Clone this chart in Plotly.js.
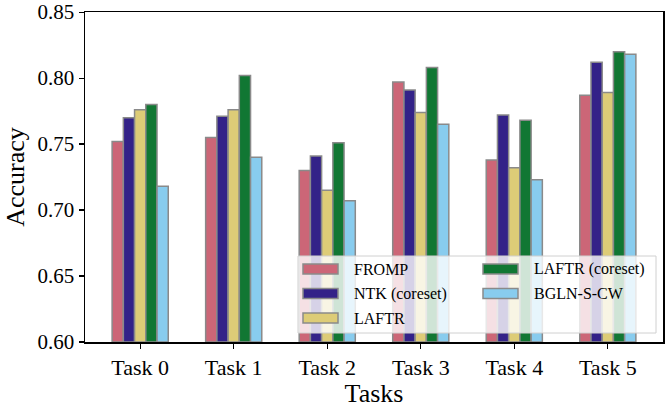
<!DOCTYPE html>
<html>
<head>
<meta charset="utf-8">
<script src="https://cdn.plot.ly/plotly-3.0.1.min.js"></script>
<style>html,body{margin:0;padding:0;background:#fff;}#chart{width:665px;height:408px;}</style>
</head>
<body>
<div id="chart"></div>
<script>
const categories = ["Task 0", "Task 1", "Task 2", "Task 3", "Task 4", "Task 5"];
const seriesNames = ["FROMP", "NTK (coreset)", "LAFTR", "LAFTR (coreset)", "BGLN-S-CW"];
const fromp = [0.752, 0.755, 0.730, 0.797, 0.738, 0.787];
const ntkCoreset = [0.770, 0.771, 0.741, 0.791, 0.772, 0.812];
const laftr = [0.776, 0.776, 0.715, 0.774, 0.732, 0.789];
const laftrCoreset = [0.780, 0.802, 0.751, 0.808, 0.768, 0.820];
const bglnScw = [0.718, 0.740, 0.707, 0.765, 0.723, 0.818];
const colors = ["#CC6677", "#332288", "#DDCC77", "#117733", "#88CCEE"];

const values = [fromp, ntkCoreset, laftr, laftrCoreset, bglnScw];
const EDGE = "#8a8a8a";
const traces = values.map((v, i) => ({
  type: "bar",
  name: seriesNames[i],
  x: categories,
  y: v.map(val => val - 0.6),
  base: 0.6,
  marker: {color: colors[i], line: {color: EDGE, width: 1.5}},
  showlegend: false,
  hoverinfo: "skip"
}));

// plot area in pixels
const L = 85, R = 663, T = 12, B = 342;
const px = x => (x - L) / (R - L);
const py = y => (B - y) / (B - T);

const FAM = "Liberation Serif";
// legend drawn as paper-anchored swatches + labels
const shapes = [{
  type: "rect", xref: "paper", yref: "paper", layer: "above",
  x0: px(298), x1: px(656), y0: py(333), y1: py(256),
  fillcolor: "rgba(255,255,255,0.8)", line: {color: "#d0d0d0", width: 1}
}];
const annotations = [];
const colX = [303, 483];
const rowY = [269, 293.5, 318];
seriesNames.forEach((name, i) => {
  const c = i < 3 ? 0 : 1;
  const r = i < 3 ? i : i - 3;
  shapes.push({
    type: "rect", xref: "paper", yref: "paper", layer: "above",
    x0: px(colX[c]), x1: px(colX[c] + 35), y0: py(rowY[r] + 5), y1: py(rowY[r] - 5),
    fillcolor: colors[i], line: {color: EDGE, width: 1.5}
  });
  annotations.push({
    xref: "paper", yref: "paper", x: px(colX[c] + 49), y: py(rowY[r]),
    xanchor: "left", yanchor: "middle", showarrow: false, text: name,
    font: {family: FAM, size: 16, color: "#000"}
  });
});

const layout = {
  width: 665, height: 408,
  margin: {l: L, r: 665 - R, t: T, b: 408 - B},
  paper_bgcolor: "#fff", plot_bgcolor: "#fff",
  barmode: "group", bargap: 0.4, bargroupgap: 0,
  font: {family: FAM, size: 16, color: "#000"},
  xaxis: {
    type: "category", range: [-0.59, 5.59],
    showline: true, linecolor: "#000", linewidth: 1.5, mirror: true,
    ticks: "outside", ticklen: 5, tickwidth: 1.2, tickcolor: "#000",
    tickfont: {family: FAM, size: 22, color: "#000"},
    title: {text: "Tasks", font: {family: FAM, size: 26, color: "#000"}, standoff: 6},
    showgrid: false, zeroline: false
  },
  yaxis: {
    range: [0.6, 0.8501], tickmode: "linear", tick0: 0.6, dtick: 0.05, tickformat: ".2f",
    ticklabeloverflow: "allow",
    showline: true, linecolor: "#000", linewidth: 1.5, mirror: true,
    ticks: "outside", ticklen: 5, tickwidth: 1.2, tickcolor: "#000",
    tickfont: {family: FAM, size: 21, color: "#000"},
    title: {text: "Accuracy", font: {family: FAM, size: 26, color: "#000"}, standoff: 5},
    showgrid: false, zeroline: false
  },
  shapes: shapes,
  annotations: annotations,
  showlegend: false
};

Plotly.newPlot("chart", traces, layout, {displayModeBar: false, staticPlot: true});
</script>
</body>
</html>
